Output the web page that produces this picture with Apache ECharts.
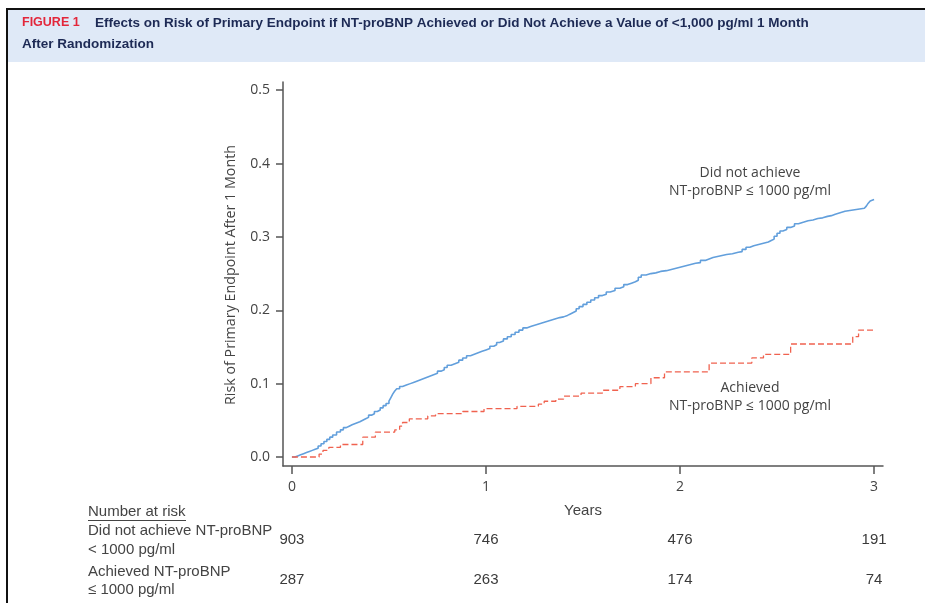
<!DOCTYPE html>
<html><head><meta charset="utf-8">
<script src="https://cdn.jsdelivr.net/npm/echarts@6/dist/echarts.min.js"></script>
<style>html,body{margin:0;padding:0;background:#fff}#c{width:925px;height:603px}</style>
</head><body><div id="c"></div>
<script>
// ---- data ----
const xTicks = [0, 1, 2, 3];
const yTicks = [0, 0.1, 0.2, 0.3, 0.4, 0.5];

const notAchievedTimes = [0,0.015,0.03,0.045,0.06,0.075,0.09,0.105,0.12,0.135,0.15,0.165,0.18,0.195,0.21,0.23,0.25,0.265,0.28,0.295,0.31,0.33,0.35,0.365,0.38,0.395,0.41,0.425,0.44,0.455,0.47,0.485,0.50,0.51,0.52,0.53,0.54,0.555,0.57,0.59,0.61,0.63,0.65,0.67,0.69,0.71,0.73,0.75,0.77,0.785,0.80,0.82,0.84,0.86,0.88,0.90,0.92,0.94,0.96,0.98,1.00,1.02,1.04,1.055,1.07,1.09,1.11,1.13,1.15,1.17,1.19,1.21,1.23,1.255,1.28,1.305,1.33,1.355,1.38,1.40,1.42,1.435,1.45,1.465,1.48,1.50,1.52,1.54,1.56,1.58,1.60,1.62,1.64,1.665,1.69,1.71,1.73,1.75,1.77,1.785,1.80,1.825,1.85,1.875,1.90,1.93,1.96,1.99,2.02,2.05,2.08,2.105,2.13,2.15,2.17,2.205,2.24,2.27,2.30,2.32,2.34,2.36,2.38,2.41,2.44,2.455,2.47,2.485,2.50,2.515,2.53,2.55,2.57,2.59,2.61,2.635,2.66,2.685,2.71,2.735,2.76,2.78,2.80,2.825,2.85,2.875,2.90,2.925,2.95,2.96,2.97,2.98,2.99,3.00];
const notAchievedRisk = [0,0.0015,0.003,0.0045,0.006,0.0075,0.009,0.0105,0.012,0.015,0.018,0.021,0.024,0.027,0.030,0.034,0.037,0.040,0.042,0.044,0.046,0.048,0.050,0.052,0.054,0.057,0.059,0.062,0.064,0.067,0.070,0.073,0.076,0.081,0.086,0.090,0.093,0.096,0.098,0.100,0.102,0.104,0.106,0.108,0.110,0.112,0.114,0.117,0.119,0.122,0.125,0.127,0.129,0.132,0.135,0.138,0.140,0.142,0.144,0.146,0.148,0.151,0.153,0.156,0.158,0.161,0.164,0.167,0.170,0.173,0.176,0.178,0.180,0.182,0.184,0.186,0.188,0.190,0.191,0.193,0.195,0.197,0.199,0.202,0.205,0.208,0.211,0.214,0.217,0.220,0.222,0.225,0.227,0.230,0.232,0.235,0.237,0.239,0.241,0.245,0.248,0.250,0.251,0.253,0.254,0.256,0.258,0.260,0.262,0.264,0.265,0.268,0.270,0.272,0.274,0.276,0.277,0.279,0.280,0.283,0.286,0.288,0.290,0.292,0.293,0.295,0.297,0.301,0.305,0.308,0.310,0.313,0.315,0.318,0.320,0.322,0.323,0.325,0.326,0.328,0.329,0.331,0.333,0.335,0.336,0.337,0.338,0.339,0.339,0.342,0.346,0.349,0.351,0.351];

const achievedTimes = [0,0.14,0.16,0.19,0.25,0.365,0.43,0.53,0.555,0.57,0.605,0.70,0.74,0.88,0.99,1.16,1.27,1.30,1.36,1.40,1.49,1.60,1.69,1.77,1.85,1.92,2.15,2.37,2.43,2.57,2.89,2.92,3.00];
const achievedRisk = [0,0.004,0.009,0.013,0.017,0.027,0.034,0.037,0.042,0.047,0.052,0.056,0.059,0.062,0.066,0.069,0.072,0.076,0.079,0.083,0.087,0.091,0.096,0.100,0.108,0.116,0.128,0.135,0.140,0.154,0.164,0.173,0.173];

const riskTimes = [0, 1, 2, 3];
const riskNotAchieved = [903, 746, 476, 191];
const riskAchieved = [287, 263, 174, 74];

// ---- chart ----
const chart = echarts.init(document.getElementById('c'));
const FONT = '"Open Sans", "Noto Sans", sans-serif';
const NARROW = '"Liberation Sans Narrow", "Liberation Sans", sans-serif';
const TXT = '#444';

const pair = (ts, vs) => ts.map((t, i) => [t, vs[i]]);
const tableData = [];
riskTimes.forEach((t, i) => {
  tableData.push([t, 0, riskNotAchieved[i]]);
  tableData.push([t, 1, riskAchieved[i]]);
});

const option = {
  animation: false,
  backgroundColor: '#fff',
  grid: [
    { left: 283, top: 82, width: 600, height: 384 },
    { left: 283, top: 520, width: 600, height: 80 }
  ],
  xAxis: [{
    gridIndex: 0, type: 'value', min: -0.046, max: 3.046,
    splitLine: { show: false },
    axisLine: { show: true, onZero: false, lineStyle: { color: '#555', width: 1.5 } },
    axisTick: { show: true, length: 8, customValues: xTicks, lineStyle: { color: '#555', width: 1.5 } },
    axisLabel: { customValues: xTicks, margin: 14, color: TXT, fontFamily: FONT, fontSize: 14, formatter: v => String(v) },
    name: 'Years', nameLocation: 'middle', nameGap: 37,
    nameTextStyle: { color: TXT, fontFamily: NARROW, fontSize: 15 }
  }, {
    gridIndex: 1, type: 'value', min: -0.046, max: 3.046, show: false
  }],
  yAxis: [{
    gridIndex: 0, type: 'value', min: -0.0123, max: 0.5112,
    splitLine: { show: false },
    axisLine: { show: true, onZero: false, lineStyle: { color: '#555', width: 1.5 } },
    axisTick: { show: true, length: 7, customValues: yTicks, lineStyle: { color: '#555', width: 1.5 } },
    axisLabel: { customValues: yTicks, margin: 13, color: TXT, fontFamily: FONT, fontSize: 14, formatter: v => v.toFixed(1) }
  }, {
    gridIndex: 1, type: 'category', data: ['notAchieved', 'achieved'], inverse: true, show: false
  }],
  series: [{
    type: 'line', name: 'Did not achieve', xAxisIndex: 0, yAxisIndex: 0,
    step: 'end', showSymbol: false, symbol: 'none',
    data: pair(notAchievedTimes, notAchievedRisk),
    lineStyle: { color: '#629fdc', width: 1.6 }
  }, {
    type: 'line', name: 'Achieved', xAxisIndex: 0, yAxisIndex: 0,
    step: 'end', showSymbol: false, symbol: 'none',
    data: pair(achievedTimes, achievedRisk),
    lineStyle: { color: '#f0624f', width: 1.3, type: [6, 3] }
  }, {
    type: 'scatter', xAxisIndex: 1, yAxisIndex: 1,
    symbolSize: 1, itemStyle: { color: 'rgba(0,0,0,0)' },
    data: tableData, clip: false,
    label: { show: true, position: 'inside', formatter: p => String(p.value[2]),
      color: '#3a3a3a', opacity: 1, textBorderWidth: 0, fontFamily: NARROW, fontSize: 15 }
  }],
  graphic: [
    { type: 'rect', silent: true, shape: { x: 8, y: 10, width: 917, height: 52 }, style: { fill: '#dfe9f7' } },
    { type: 'rect', silent: true, shape: { x: 6, y: 8, width: 919, height: 2 }, style: { fill: '#111' } },
    { type: 'rect', silent: true, shape: { x: 6, y: 8, width: 2, height: 595 }, style: { fill: '#111' } },
    { type: 'text', x: 22, y: 23, style: { text: 'FIGURE 1', fill: '#e3263a', font: 'bold 12.5px "Liberation Sans", sans-serif', verticalAlign: 'middle' } },
    { type: 'text', x: 95, y: 23, style: { text: 'Effects on Risk of Primary Endpoint if NT-proBNP Achieved or Did Not Achieve a Value of <1,000 pg/ml 1 Month', fill: '#1d2a55', font: 'bold 13.5px "Liberation Sans", sans-serif', verticalAlign: 'middle' } },
    { type: 'text', x: 22, y: 44, style: { text: 'After Randomization', fill: '#1d2a55', font: 'bold 13.5px "Liberation Sans", sans-serif', verticalAlign: 'middle' } },
    { type: 'text', x: 231, y: 275, rotation: Math.PI / 2, style: { text: 'Risk of Primary Endpoint After 1 Month', fill: TXT, font: '14.3px ' + FONT, align: 'center', verticalAlign: 'middle' } },
    { type: 'text', x: 750, y: 173, style: { text: 'Did not achieve', fill: TXT, font: '14px ' + FONT, align: 'center', verticalAlign: 'middle' } },
    { type: 'text', x: 750, y: 191, style: { text: 'NT-proBNP ≤ 1000 pg/ml', fill: TXT, font: '14px ' + FONT, align: 'center', verticalAlign: 'middle' } },
    { type: 'text', x: 750, y: 388, style: { text: 'Achieved', fill: TXT, font: '14px ' + FONT, align: 'center', verticalAlign: 'middle' } },
    { type: 'text', x: 750, y: 406, style: { text: 'NT-proBNP ≤ 1000 pg/ml', fill: TXT, font: '14px ' + FONT, align: 'center', verticalAlign: 'middle' } },
    { type: 'text', x: 88, y: 512, style: { text: 'Number at risk', fill: TXT, font: '15px ' + NARROW, verticalAlign: 'middle' } },
    { type: 'rect', silent: true, shape: { x: 88, y: 520, width: 98, height: 1 }, style: { fill: TXT } },
    { type: 'text', x: 88, y: 531, style: { text: 'Did not achieve NT-proBNP', fill: TXT, font: '15px ' + NARROW, verticalAlign: 'middle' } },
    { type: 'text', x: 88, y: 550, style: { text: '< 1000 pg/ml', fill: TXT, font: '15px ' + NARROW, verticalAlign: 'middle' } },
    { type: 'text', x: 88, y: 572, style: { text: 'Achieved NT-proBNP', fill: TXT, font: '15px ' + NARROW, verticalAlign: 'middle' } },
    { type: 'text', x: 88, y: 590, style: { text: '≤ 1000 pg/ml', fill: TXT, font: '15px ' + NARROW, verticalAlign: 'middle' } }
  ]
};
chart.setOption(option);
</script>
</body></html>
